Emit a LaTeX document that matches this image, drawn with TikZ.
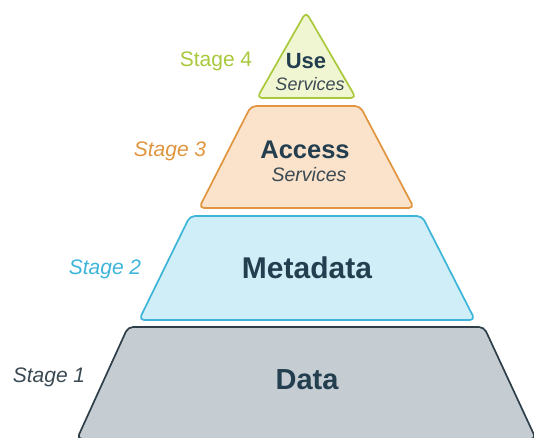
\documentclass[tikz,border=0pt]{standalone}
\usepackage{fontspec}
\setmainfont{Liberation Sans}
\definecolor{usedraw}{HTML}{A9C83C}
\definecolor{usefill}{HTML}{F1F6D2}
\definecolor{accdraw}{HTML}{E0953E}
\definecolor{accfill}{HTML}{FAE2CB}
\definecolor{metadraw}{HTML}{3DB5D9}
\definecolor{metafill}{HTML}{D0EEF8}
\definecolor{datadraw}{HTML}{2E3F49}
\definecolor{datafill}{HTML}{C5CDD3}
\definecolor{titletext}{HTML}{233E4E}
\definecolor{subtext}{HTML}{3A4952}
\begin{document}
\begin{tikzpicture}[x=1pt,y=-1pt,
	  layer/.style={line width=1.7pt,rounded corners=5pt,line join=round},
	  title/.style={font=\fontsize{#1}{#1}\selectfont\bfseries,text=titletext},
	  sub/.style={font=\fontsize{18}{18}\selectfont\itshape,text=subtext},
	  stage/.style={font=\fontsize{21}{21}\selectfont\itshape}]
	  \useasboundingbox (0,0) rectangle (534,437);
	  \clip (0,0) rectangle (534,437);
	  \draw[layer,draw=usedraw,fill=usefill] (306,12) -- (356,98) -- (257,98) -- cycle;
	  \draw[layer,draw=accdraw,fill=accfill] (251,106) -- (360,106) -- (414,208) -- (199,208) -- cycle;
	  \draw[layer,draw=metadraw,fill=metafill] (190,216) -- (422,216) -- (475,320) -- (139,320) -- cycle;
	  \draw[layer,draw=datadraw,fill=datafill] (128,327) -- (484,327) -- (536,439) -- (77,439) -- cycle;
	  \node[title=22] (use) at (306,61) {Use};
	  \node[sub] (usesub) at (310,84) {Services};
	  \node[title=25.5] (access) at (305,150) {Access};
	  \node[sub,font=\fontsize{19.5}{19.5}\selectfont\itshape] (accsub) at (309,175) {Services};
	  \node[title=30] (meta) at (307,268) {Metadata};
	  \node[title=29] (data) at (307,380) {Data};
	  \node[stage,font=\fontsize{21}{21}\selectfont\upshape,text=usedraw] (stagefour) at (216,61) {Stage 4};
	  \node[stage,text=accdraw] (stagethree) at (170,151) {Stage 3};
	  \node[stage,text=metadraw] (stagetwo) at (105,269) {Stage 2};
	  \node[stage,text=subtext] (stageone) at (49,377) {Stage 1};
	\end{tikzpicture}
\end{document}
